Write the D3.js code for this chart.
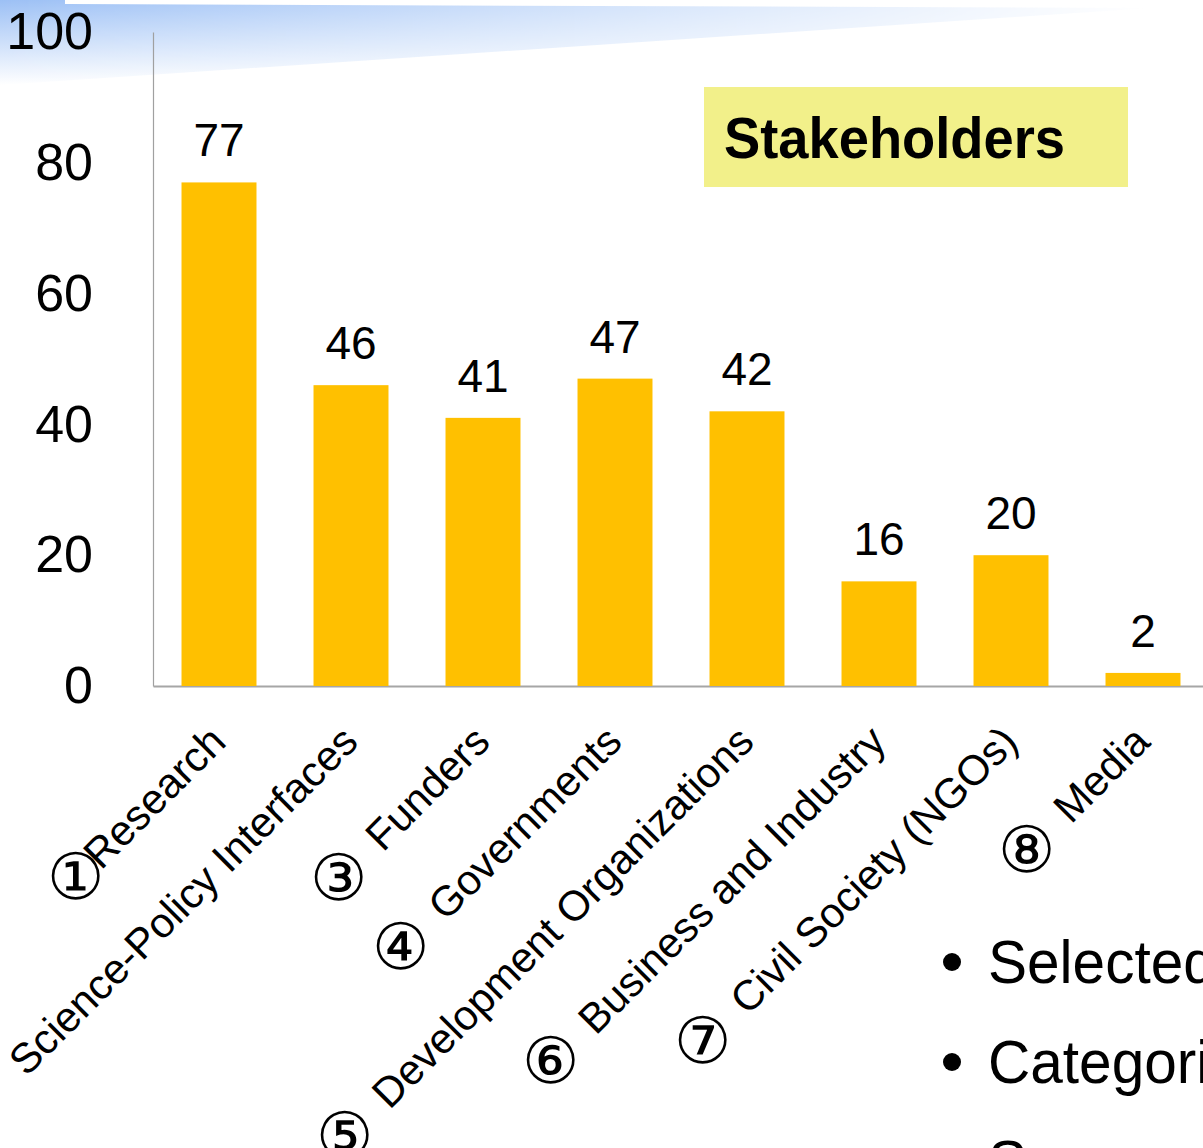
<!DOCTYPE html>
<html>
<head>
<meta charset="utf-8">
<script src="https://cdn.jsdelivr.net/npm/d3@7"></script>
<style>
  body { margin: 0; background: #fff; }
  svg { display: block; }
  text { font-family: "Liberation Sans", Arial, sans-serif; fill: #000; }
</style>
</head>
<body>
<div id="chart"></div>
<script>
// data
const categories = ['①Research', 'Science-Policy Interfaces', '③ Funders', '④ Governments',
  '⑤ Development Organizations', '⑥ Business and Industry', '⑦ Civil Society (NGOs)', '⑧ Media'];
const counts = [77, 46, 41, 47, 42, 16, 20, 2];
const yTicks = [0, 20, 40, 60, 80, 100];
const titleText = 'Stakeholders';
const bulletLines = ['Selected', 'Categories', 'S'];

class BarChart {
  constructor(_config, _data) {
    this.config = {
      parentElement: _config.parentElement,
      containerWidth: _config.width,
      containerHeight: _config.height,
    };
    this.margin = {top: 32, right: -6, bottom: 462, left: 153};
    this.data = _data;
    this.initVis();
  }

  initVis() {
    let vis = this;
    vis.width = vis.config.containerWidth - vis.margin.left - vis.margin.right;
    vis.height = vis.config.containerHeight - vis.margin.top - vis.margin.bottom;

    vis.svg = d3.select(vis.config.parentElement).append('svg')
      .attr('width', vis.config.containerWidth)
      .attr('height', vis.config.containerHeight);

    // slide decoration (blue swoosh top left)
    const defs = vis.svg.append('defs');
    const fade = defs.append('linearGradient').attr('id', 'skyFade')
      .attr('x1', 0).attr('y1', 0).attr('x2', 0).attr('y2', 1);
    fade.append('stop').attr('offset', 0).attr('stop-color', '#9cc0f5');
    fade.append('stop').attr('offset', 1).attr('stop-color', '#ffffff');
    const side = defs.append('linearGradient').attr('id', 'sideFade')
      .attr('gradientUnits', 'userSpaceOnUse')
      .attr('x1', 0).attr('y1', 0).attr('x2', 1150).attr('y2', 0);
    side.append('stop').attr('offset', 0).attr('stop-color', '#fff').attr('stop-opacity', 1);
    side.append('stop').attr('offset', 1).attr('stop-color', '#fff').attr('stop-opacity', 0);
    defs.append('mask').attr('id', 'sideMask')
      .append('rect').attr('width', vis.config.containerWidth).attr('height', 120)
      .attr('fill', 'url(#sideFade)');
    vis.svg.append('polygon')
      .attr('points', '0,0 65,0 65,4 1150,8 0,85')
      .attr('fill', 'url(#skyFade)')
      .attr('mask', 'url(#sideMask)');

    vis.g = vis.svg.append('g')
      .attr('transform', `translate(${vis.margin.left},${vis.margin.top})`);

    vis.x = d3.scaleBand()
      .domain(vis.data.map(d => d.name))
      .range([0, vis.width])
      .paddingInner(0.432)
      .paddingOuter(0.216);
    vis.y = d3.scaleLinear()
      .domain([0, 100])
      .range([vis.height, 0]);

    // axes
    vis.yAxis = vis.g.append('g').attr('class', 'y-axis')
      .call(d3.axisLeft(vis.y).tickValues(yTicks).tickSize(0).tickPadding(60));
    vis.yAxis.select('.domain').attr('stroke', '#a0a0a0').attr('stroke-width', 1.2);
    vis.yAxis.selectAll('text')
      .attr('font-size', 52)
      .attr('font-family', '"Liberation Sans", Arial, sans-serif')
      .attr('fill', '#000');

    vis.xAxis = vis.g.append('g').attr('class', 'x-axis')
      .attr('transform', `translate(0,${vis.height})`)
      .call(d3.axisBottom(vis.x).tickSize(0).tickFormat(''));
    vis.xAxis.select('.domain').attr('stroke', '#a6a6a6').attr('stroke-width', 2);

    // title box
    vis.svg.append('rect')
      .attr('x', 704).attr('y', 87).attr('width', 424).attr('height', 100)
      .attr('fill', '#f2f08a');
    vis.svg.append('text')
      .attr('x', 724).attr('y', 158)
      .attr('font-family', 'Lato, "Open Sans", sans-serif')
      .attr('font-weight', 700)
      .attr('font-size', 58)
      .attr('textLength', 341)
      .attr('lengthAdjust', 'spacingAndGlyphs')
      .text(titleText);

    // bullet list (cut off by the frame)
    const bl = vis.svg.append('g').attr('class', 'bullets');
    bulletLines.forEach((t, i) => {
      bl.append('circle')
        .attr('cx', 952).attr('cy', 962 + i * 100).attr('r', 9)
        .attr('fill', '#000');
      bl.append('text')
        .attr('transform', `translate(988,${983 + i * 100}) scale(0.96,1)`)
        .attr('font-family', 'Lato, "Open Sans", sans-serif')
        .attr('font-size', 61)
        .text(t);
    });

    vis.renderVis();
  }

  renderVis() {
    let vis = this;

    vis.g.selectAll('.bar')
      .data(vis.data)
      .enter().append('rect')
      .attr('class', 'bar')
      .attr('x', d => vis.x(d.name))
      .attr('y', d => vis.y(d.value))
      .attr('width', vis.x.bandwidth())
      .attr('height', d => vis.height - vis.y(d.value))
      .attr('fill', '#ffc000');

    vis.g.selectAll('.valueLabel')
      .data(vis.data)
      .enter().append('text')
      .attr('class', 'valueLabel')
      .attr('x', d => vis.x(d.name) + vis.x.bandwidth() / 2)
      .attr('y', d => vis.y(d.value) - 26)
      .attr('text-anchor', 'middle')
      .attr('font-size', 46)
      .text(d => d.value);

    // rotated category labels, circled number kept upright
    vis.cat = vis.g.selectAll('.catLabel')
      .data(vis.data)
      .enter().append('g')
      .attr('class', 'catLabel')
      .attr('transform', d => `translate(${vis.x(d.name) + vis.x.bandwidth() / 2 + 9},${vis.height + 58}) rotate(-45)`);
    vis.cat.append('text')
      .attr('text-anchor', 'end')
      .attr('xml:space', 'preserve')
      .style('white-space', 'pre')
      .attr('font-size', 42)
      .text(d => d.label);
    vis.cat.filter(d => d.mark).each(function(d) {
      const g = d3.select(this);
      const len = g.select('text').node().getComputedTextLength();
      const gap = d.label.startsWith(' ') ? 38 : 22;
      g.append('text')
        .attr('transform', `translate(${-(len + gap)},${-14}) rotate(45)`)
        .attr('text-anchor', 'middle')
        .attr('dominant-baseline', 'central')
        .attr('font-family', '"DejaVu Sans", sans-serif')
        .attr('font-size', 64)
        .text(d.mark);
    });
  }
}

const circled = '①②③④⑤⑥⑦⑧';
const data = categories.map((c, i) => {
  const hasMark = circled.includes(c.charAt(0));
  return {
    name: c,
    mark: hasMark ? c.charAt(0) : '',
    label: hasMark ? c.slice(1) : c,
    value: counts[i]
  };
});

const chart = new BarChart({parentElement: '#chart', width: 1203, height: 1148}, data);
</script>
</body>
</html>
